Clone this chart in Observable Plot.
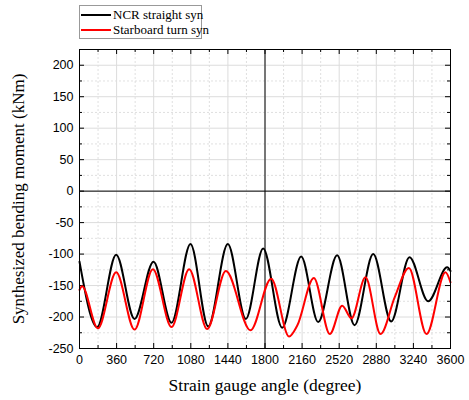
<!DOCTYPE html>
<html>
<head>
<meta charset="utf-8">
<script src="https://cdn.jsdelivr.net/npm/d3@7"></script>
<script src="https://cdn.jsdelivr.net/npm/@observablehq/plot@0.6"></script>
<style>
  body { margin: 0; background: #fff; }
  #wrap { position: relative; width: 469px; height: 400px; }
  #legend { position: absolute; left: 79px; top: 5px; width: 123px; height: 34px;
    border: 1px solid #999; background: #fff; font-family: "Liberation Serif", serif; font-size: 13px; white-space: nowrap; box-sizing: border-box; }
  .row { position: absolute; left: 0; height: 15px; display: flex; align-items: center; white-space: nowrap; }
  .sw { width: 30px; height: 0; border-top: 2.5px solid; margin: 0 2px 0 1px; }
</style>
</head>
<body>
<div id="wrap">
  <div id="chart"></div>
  <div id="legend"></div>
</div>
<script>
// Data
const seriesNames = ["NCR straight syn", "Starboard turn syn"];
const seriesColors = ["#000000", "#ff0000"];

const ncrAngle = [0, 171, 356, 534, 718, 893, 1077, 1249, 1439, 1614, 1782, 1967, 2151, 2316, 2500, 2669, 2850, 3024, 3202, 3383, 3568, 3600];
const ncrMoment = [-112, -216, -101, -203, -112, -209, -84, -215, -84, -203, -91, -217, -104, -208, -102, -213, -100, -207, -105, -175, -121, -127];

const stbAngle = [0, 25, 178, 356, 534, 712, 893, 1064, 1239, 1420, 1659, 1860, 2034, 2112, 2274, 2429, 2549, 2639, 2775, 2921, 3060, 3196, 3367, 3551, 3600];
const stbMoment = [-157, -151, -218, -129, -220, -124, -216, -124, -219, -127, -221, -139, -231, -214, -138, -227, -182, -202, -137, -227, -168, -122, -227, -129, -145];

const xTicks = [0, 360, 720, 1080, 1440, 1800, 2160, 2520, 2880, 3240, 3600];
const xMinor = [180, 540, 900, 1260, 1620, 1980, 2340, 2700, 3060, 3420];
const yTicks = [-250, -200, -150, -100, -50, 0, 50, 100, 150, 200];
const yMinor = [-225, -175, -125, -75, -25, 25, 75, 125, 175, 225];

const W = 469, H = 400, mL = 79, mR = 19, mT = 49, mB = 52;
const iw = W - mL - mR, ih = H - mT - mB;

const data = [
  ...ncrAngle.map((a, i) => ({series: seriesNames[0], angle: a, moment: ncrMoment[i]})),
  ...stbAngle.map((a, i) => ({series: seriesNames[1], angle: a, moment: stbMoment[i]}))
];

const chart = Plot.plot({
  width: W, height: H,
  marginLeft: mL, marginRight: mR, marginTop: mT, marginBottom: mB,
  style: {fontFamily: "'Liberation Sans', Arial, sans-serif", fontSize: "12.5px", color: "#000"},
  x: {domain: [0, 3600]},
  y: {domain: [-250, 225]},
  color: {domain: seriesNames, range: seriesColors},
  marks: [
    // grid
    Plot.ruleX(xMinor, {stroke: "#d8d8d8", strokeDasharray: "2,2", strokeWidth: 0.8}),
    Plot.ruleY(yMinor, {stroke: "#d8d8d8", strokeDasharray: "2,2", strokeWidth: 0.8}),
    Plot.ruleX(xTicks, {stroke: "#dcdcdc", strokeWidth: 1}),
    Plot.ruleY(yTicks, {stroke: "#dcdcdc", strokeWidth: 1}),
    // reference lines
    Plot.ruleX([1800], {stroke: "#000", strokeWidth: 1}),
    Plot.ruleY([0], {stroke: "#000", strokeWidth: 1}),
    // inward ticks
    Plot.ruleX(xTicks, {stroke: "#000", insetTop: ih - 5}),
    Plot.ruleX(xMinor, {stroke: "#000", insetTop: ih - 3}),
    Plot.ruleX(xTicks, {stroke: "#000", insetBottom: ih - 5}),
    Plot.ruleX(xMinor, {stroke: "#000", insetBottom: ih - 3}),
    Plot.ruleY(yTicks, {stroke: "#000", insetRight: iw - 5}),
    Plot.ruleY(yMinor, {stroke: "#000", insetRight: iw - 3}),
    Plot.ruleY(yTicks, {stroke: "#000", insetLeft: iw - 5}),
    Plot.ruleY(yMinor, {stroke: "#000", insetLeft: iw - 3}),
    // data
    Plot.line(data, {x: "angle", y: "moment", z: "series", stroke: "series", strokeWidth: 2, curve: "monotone-x"}),
    Plot.frame({stroke: "#000", strokeWidth: 1}),
    // axes
    Plot.axisX(xTicks, {tickSize: 0, tickPadding: 7, label: null, tickFormat: d => String(d)}),
    Plot.axisY(yTicks, {tickSize: 0, tickPadding: 6, label: null, tickFormat: d => String(d)}),
    Plot.text(["Strain gauge angle (degree)"], {frameAnchor: "bottom", dy: 37, lineAnchor: "middle", textAnchor: "middle", fontFamily: "'Liberation Serif', serif", fontSize: 17.5}),
    Plot.text(["Synthesized bending moment (kNm)"], {frameAnchor: "left", dx: -61, rotate: -90, textAnchor: "middle", lineAnchor: "middle", fontFamily: "'Liberation Serif', serif", fontSize: 17})
  ]
});
document.getElementById("chart").appendChild(chart);

const legend = document.getElementById("legend");
seriesNames.forEach((n, i) => {
  const row = document.createElement("div");
  row.className = "row";
  row.style.top = (1 + i * 15.5) + "px";
  const sw = document.createElement("div");
  sw.className = "sw";
  sw.style.borderTopColor = seriesColors[i];
  const t = document.createElement("span");
  t.textContent = n;
  row.appendChild(sw); row.appendChild(t);
  legend.appendChild(row);
});
</script>
</body>
</html>
